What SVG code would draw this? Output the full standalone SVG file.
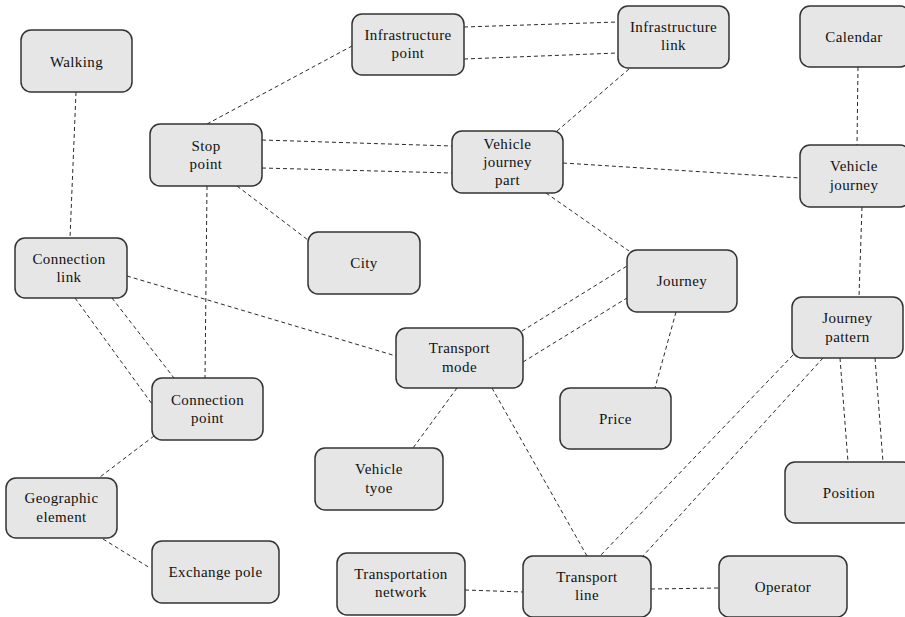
<svg xmlns="http://www.w3.org/2000/svg" width="905" height="617" viewBox="0 0 905 617">
  <style>
    .node rect { fill: #e6e6e6; stroke: #333333; stroke-width: 1.5; }
    .node text { font-size: 15px; letter-spacing: 0.4px; fill: #111111; text-anchor: middle; }
    #connectors line { stroke: #2a2a2a; stroke-width: 1; stroke-dasharray: 4 3; fill: none; }
  </style>
  <rect x="0" y="0" width="905" height="617" fill="#ffffff"/>

  <g id="connectors">
    <line x1="76" y1="92" x2="70" y2="238"/>
    <line x1="207" y1="124" x2="352" y2="46"/>
    <line x1="464" y1="27" x2="618" y2="22"/>
    <line x1="464" y1="59" x2="618" y2="53"/>
    <line x1="629" y1="69" x2="557" y2="131"/>
    <line x1="262" y1="140" x2="452" y2="146"/>
    <line x1="262" y1="168" x2="452" y2="173"/>
    <line x1="563" y1="163" x2="800" y2="178"/>
    <line x1="858" y1="67" x2="857" y2="145"/>
    <line x1="862" y1="207" x2="859" y2="297"/>
    <line x1="546" y1="193" x2="629" y2="251"/>
    <line x1="237" y1="186" x2="308" y2="240"/>
    <line x1="207" y1="186" x2="205" y2="378"/>
    <line x1="127" y1="276" x2="396" y2="356"/>
    <line x1="75" y1="298" x2="152" y2="404"/>
    <line x1="112" y1="298" x2="174" y2="378"/>
    <line x1="154" y1="436" x2="100" y2="477"/>
    <line x1="103" y1="539" x2="150" y2="568"/>
    <line x1="522" y1="331" x2="627" y2="266"/>
    <line x1="523" y1="362" x2="627" y2="298"/>
    <line x1="676" y1="312" x2="655" y2="388"/>
    <line x1="457" y1="388" x2="413" y2="448"/>
    <line x1="492" y1="388" x2="587" y2="556"/>
    <line x1="793" y1="355" x2="600" y2="556"/>
    <line x1="823" y1="358" x2="643" y2="556"/>
    <line x1="840" y1="358" x2="848" y2="462"/>
    <line x1="875" y1="358" x2="883" y2="462"/>
    <line x1="465" y1="590" x2="523" y2="592"/>
    <line x1="651" y1="589" x2="719" y2="588"/>
  </g>

  <g font-family="Liberation Serif, DejaVu Serif, serif">
  <g id="walking" class="node">
    <rect x="21" y="30" width="111" height="62" rx="10"/>
    <text x="76.5" y="67">Walking</text>
  </g>
  <g id="stop-point" class="node">
    <rect x="150" y="124" width="112" height="62" rx="10"/>
    <text x="206" y="151">Stop</text>
    <text x="206" y="169">point</text>
  </g>
  <g id="infrastructure-point" class="node">
    <rect x="352" y="14" width="112" height="61" rx="10"/>
    <text x="408" y="40">Infrastructure</text>
    <text x="408" y="58">point</text>
  </g>
  <g id="infrastructure-link" class="node">
    <rect x="618" y="6" width="111" height="62" rx="10"/>
    <text x="673.5" y="32">Infrastructure</text>
    <text x="673.5" y="50">link</text>
  </g>
  <g id="calendar" class="node">
    <rect x="800" y="6" width="110" height="61" rx="10"/>
    <text x="854" y="42">Calendar</text>
  </g>
  <g id="vehicle-journey-part" class="node">
    <rect x="452" y="131" width="111" height="62" rx="10"/>
    <text x="507.5" y="149">Vehicle</text>
    <text x="507.5" y="167">journey</text>
    <text x="507.5" y="185">part</text>
  </g>
  <g id="vehicle-journey" class="node">
    <rect x="800" y="145" width="110" height="62" rx="10"/>
    <text x="854" y="171">Vehicle</text>
    <text x="854" y="190">journey</text>
  </g>
  <g id="connection-link" class="node">
    <rect x="15" y="238" width="112" height="60" rx="10"/>
    <text x="69" y="264">Connection</text>
    <text x="69" y="282">link</text>
  </g>
  <g id="city" class="node">
    <rect x="308" y="232" width="112" height="62" rx="10"/>
    <text x="364" y="268">City</text>
  </g>
  <g id="journey" class="node">
    <rect x="627" y="250" width="110" height="62" rx="10"/>
    <text x="682" y="286">Journey</text>
  </g>
  <g id="journey-pattern" class="node">
    <rect x="792" y="297" width="111" height="61" rx="10"/>
    <text x="847.5" y="323">Journey</text>
    <text x="847.5" y="342">pattern</text>
  </g>
  <g id="transport-mode" class="node">
    <rect x="396" y="328" width="127" height="60" rx="10"/>
    <text x="459.5" y="353">Transport</text>
    <text x="459.5" y="372">mode</text>
  </g>
  <g id="connection-point" class="node">
    <rect x="152" y="378" width="111" height="62" rx="10"/>
    <text x="207.5" y="405">Connection</text>
    <text x="207.5" y="423">point</text>
  </g>
  <g id="price" class="node">
    <rect x="560" y="388" width="111" height="61" rx="10"/>
    <text x="615.5" y="424">Price</text>
  </g>
  <g id="vehicle-type" class="node">
    <rect x="315" y="448" width="128" height="62" rx="10"/>
    <text x="379" y="474">Vehicle</text>
    <text x="379" y="493">tyoe</text>
  </g>
  <g id="position" class="node">
    <rect x="785" y="462" width="128" height="61" rx="10"/>
    <text x="849" y="498">Position</text>
  </g>
  <g id="geographic-element" class="node">
    <rect x="6" y="478" width="111" height="60" rx="10"/>
    <text x="61.5" y="503">Geographic</text>
    <text x="61.5" y="522">element</text>
  </g>
  <g id="exchange-pole" class="node">
    <rect x="152" y="541" width="127" height="62" rx="10"/>
    <text x="215.5" y="577">Exchange pole</text>
  </g>
  <g id="transportation-network" class="node">
    <rect x="337" y="553" width="128" height="62" rx="10"/>
    <text x="401" y="579">Transportation</text>
    <text x="401" y="597">network</text>
  </g>
  <g id="transport-line" class="node">
    <rect x="523" y="556" width="128" height="61" rx="10"/>
    <text x="587" y="582">Transport</text>
    <text x="587" y="600">line</text>
  </g>
  <g id="operator" class="node">
    <rect x="719" y="556" width="128" height="61" rx="10"/>
    <text x="783" y="592">Operator</text>
  </g>
  </g>
</svg>
